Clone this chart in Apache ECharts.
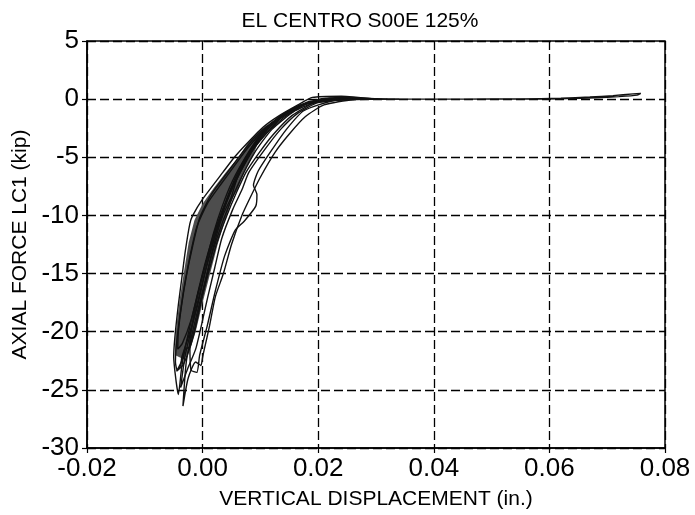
<!DOCTYPE html>
<html>
<head>
<meta charset="utf-8">
<script src="https://cdn.jsdelivr.net/npm/echarts@6/dist/echarts.min.js"></script>
<style>
  html, body { margin: 0; padding: 0; background: #fff; }
  #chart { width: 695px; height: 515px; }
</style>
</head>
<body>
<div id="chart"></div>
<script>
// axis ranges / labels
const titleText = 'EL CENTRO S00E 125%';
const xName = 'VERTICAL DISPLACEMENT (in.)';
const yName = 'AXIAL FORCE LC1 (kip)';
const xRange = [-0.02, 0.08];
const yRange = [-30, 5];

// hysteresis loops: [displacement in., force kip]
const loopOuterLeft = [
  [0.030,0.0],[0.024,0.25],[0.019,0.15],[0.0165,-0.5],[0.013,-1.5],[0.0105,-2.4],[0.0075,-3.9],
  [0.0055,-5.0],[0.0035,-6.3],[0.0,-8.6],[-0.0017,-10.0],[-0.0022,-10.7],[-0.003,-13.1],
  [-0.0036,-15.4],[-0.0042,-17.7],[-0.0048,-20.5],[-0.005,-22.2],[-0.0046,-24.2],[-0.0042,-25.4],
  [-0.0036,-23.0],[-0.0030,-21.5],[-0.0022,-21.3],[-0.0008,-18.5],[0.0006,-15.5],[0.0018,-12.8],
  [0.0035,-10.0],[0.0049,-8.5],[0.0060,-6.8],[0.0088,-4.3],[0.0113,-2.8],[0.0138,-1.5],
  [0.018,-0.4],[0.024,-0.05],[0.030,0.0]
];
const loopOuterRight = [
  [0.032,0.0],[0.026,0.1],[0.020,-0.2],[0.016,-1.0],[0.012,-2.6],[0.009,-4.6],[0.006,-7.5],
  [0.0035,-10.5],[0.0015,-13.5],[0.0,-16.5],[-0.0015,-19.5],[-0.0028,-22.5],[-0.0034,-26.4],
  [-0.0025,-24.0],[-0.0012,-22.6],[-0.0003,-22.9],[0.0,-22.2],[0.0003,-21.5],[0.0012,-19.5],
  [0.0022,-17.0],[0.0036,-15.0],[0.005,-12.5],[0.0068,-10.0],[0.0082,-8.5],[0.0099,-6.8],
  [0.0125,-4.6],[0.015,-3.0],[0.0178,-1.5],[0.021,-0.5],[0.026,-0.05],[0.034,0.0]
];
const loopMidRight = [
  [0.030,0.0],[0.022,0.1],[0.018,-0.4],[0.014,-1.6],[0.0105,-3.2],[0.0078,-5.0],[0.0052,-7.6],
  [0.003,-10.5],[0.0012,-13.4],[-0.0004,-16.5],[-0.0018,-19.5],[-0.003,-22.0],[-0.0038,-24.8],
  [-0.0026,-23.2],[-0.0012,-21.5],[0.0,-19.0],[0.0009,-17.0],[0.0021,-14.5],[0.0033,-12.0],
  [0.0052,-9.5],[0.0068,-7.8],[0.0080,-6.3],[0.0108,-4.3],[0.0135,-2.6],[0.0165,-1.2],
  [0.020,-0.3],[0.026,0.0],[0.030,0.0]
];
const loopMid = [
  [0.027,0.0],[0.021,0.05],[0.017,-0.6],[0.0125,-2.0],[0.0095,-3.6],[0.0072,-5.4],[0.0045,-8.3],
  [0.0022,-11.2],[0.0005,-14.0],[-0.001,-17.0],[-0.0024,-20.0],[-0.0036,-22.5],[-0.0045,-23.4],
  [-0.0033,-22.8],[-0.0015,-20.2],[-0.0003,-17.5],[0.0012,-14.6],[0.0025,-12.3],[0.0042,-10.0],
  [0.0058,-8.1],[0.0075,-6.3],[0.0098,-4.6],[0.0123,-3.0],[0.0155,-1.4],[0.0195,-0.3],[0.027,0.0]
];
const loopBulge = [
  [0.030,0.0],[0.024,0.15],[0.0185,-0.2],[0.015,-1.0],[0.0115,-2.5],[0.0088,-4.2],[0.006,-6.8],
  [0.0035,-9.5],[0.0015,-12.5],[-0.0002,-15.5],[-0.0015,-18.5],[-0.0022,-21.0],[-0.002,-23.3],
  [-0.001,-23.5],[-0.0005,-22.0],[0.0008,-19.5],[0.0022,-16.5],[0.0038,-13.5],[0.0056,-11.3],
  [0.0072,-10.5],[0.0092,-9.2],[0.0094,-8.2],[0.0088,-7.4],[0.0096,-6.2],[0.0118,-4.5],
  [0.0145,-2.6],[0.0175,-1.0],[0.023,-0.1],[0.030,0.0]
];
const loopBandA = [
  [0.022,0.0],[0.016,-0.7],[0.012,-2.0],[0.0088,-3.4],[0.0064,-4.9],[0.004,-6.5],[0.0015,-8.2],
  [-0.0005,-10.2],[-0.0018,-12.8],[-0.0028,-15.2],[-0.0036,-17.6],[-0.0042,-20.0],[-0.0043,-21.5],
  [-0.0035,-21.0],[-0.0020,-19.0],[-0.0007,-16.5],[0.0006,-14.0],[0.0019,-11.5],[0.0034,-9.2],
  [0.0052,-7.0],[0.0074,-5.0],[0.0098,-3.2],[0.013,-1.6],[0.017,-0.5],[0.022,0.0]
];
const loopBandB = [
  [0.0182,-0.3],[0.0145,-1.2],[0.0108,-2.6],[0.0078,-4.2],[0.0054,-5.8],[0.0032,-7.3],[0.0008,-9.0],
  [-0.0010,-11.0],[-0.0023,-13.8],[-0.0034,-16.8],[-0.0044,-20.5],[-0.0047,-22.6],[-0.0044,-23.3],
  [-0.0038,-22.9],[-0.0036,-22.2],[-0.0023,-20.2],[-0.0009,-17.8],[0.0004,-15.0],[0.0017,-12.5],
  [0.0032,-10.0],[0.0046,-8.0],[0.0064,-6.0],[0.0085,-4.2],[0.011,-2.6],[0.0142,-1.2],[0.0182,-0.3]
];
const loopTail = [
  [0.026,0.0],[0.035,0.0],[0.045,0.0],[0.055,0.02],[0.062,0.08],[0.067,0.18],[0.071,0.3],
  [0.0745,0.45],[0.0758,0.5],[0.0752,0.35],[0.072,0.22],[0.068,0.12],[0.063,0.05],[0.057,0.0],
  [0.05,0.0],[0.04,0.0],[0.03,0.0]
];
// dense, overlapping cycles drawn as one dark region
const denseBand = [
  [0.0112,-2.2],[0.0095,-2.8],[0.0078,-3.8],[0.0062,-5.0],[0.0040,-6.3],[0.0020,-7.6],[0.0,-9.0],
  [-0.0014,-10.4],[-0.0024,-12.3],[-0.0032,-14.8],[-0.0039,-17.0],[-0.0044,-19.0],[-0.0047,-20.5],
  [-0.0048,-22.0],[-0.0032,-22.4],[-0.0020,-21.3],[-0.0012,-20.0],[0.0,-17.5],[0.0013,-15.0],
  [0.0026,-12.5],[0.0039,-10.4],[0.0052,-8.5],[0.0061,-7.7],[0.0074,-6.0],[0.0086,-5.0],
  [0.0098,-3.5],[0.0112,-2.6],[0.0118,-2.2]
];

const loops = [loopBandA, loopBandB, loopOuterLeft, loopOuterRight, loopMidRight, loopMid, loopBulge, loopTail];

const chart = echarts.init(document.getElementById('chart'));
const font = 'Liberation Sans';

const series = [{
  type: 'custom',
  silent: true,
  data: [[0, 0]],
  renderItem: function (params, api) {
    return {
      type: 'polygon',
      shape: { points: denseBand.map(p => api.coord(p)) },
      style: { fill: '#4d4d4d' }
    };
  }
}];
loops.forEach(function (d) {
  series.push({
    type: 'line',
    data: d,
    showSymbol: false,
    silent: true,
    smooth: 0.2,
    lineStyle: { color: '#111', width: 1.4 }
  });
});

chart.setOption({
  animation: false,
  backgroundColor: '#fff',
  title: {
    text: titleText,
    left: 355,
    top: 6,
    textAlign: 'center',
    textStyle: { fontFamily: font, fontSize: 21, fontWeight: 'normal', color: '#000' }
  },
  grid: {
    left: 87, right: 30, top: 41, bottom: 63,
    show: true, borderColor: '#000', borderWidth: 1.5
  },
  xAxis: {
    type: 'value',
    min: xRange[0], max: xRange[1], interval: 0.02,
    name: xName, nameLocation: 'middle', nameGap: 41,
    nameTextStyle: { fontFamily: font, fontSize: 21, color: '#000' },
    axisLine: { onZero: false, lineStyle: { color: '#000', width: 1.5 } },
    axisTick: { inside: false, length: 5, lineStyle: { color: '#000', width: 1.2 } },
    axisLabel: {
      margin: 8, fontFamily: font, fontSize: 26, color: '#000',
      formatter: v => v.toFixed(2)
    },
    splitLine: { show: true, lineStyle: { color: '#000', width: 1.3, type: [9, 4] } }
  },
  yAxis: {
    type: 'value',
    min: yRange[0], max: yRange[1], interval: 5,
    name: yName, nameLocation: 'middle', nameGap: 55,
    nameTextStyle: { fontFamily: font, fontSize: 21, color: '#000' },
    axisLine: { onZero: false, lineStyle: { color: '#000', width: 1.5 } },
    axisTick: { inside: false, length: 5, lineStyle: { color: '#000', width: 1.2 } },
    axisLabel: { margin: 8, fontFamily: font, fontSize: 26, color: '#000' },
    splitLine: { show: true, lineStyle: { color: '#000', width: 1.3, type: [9, 4] } }
  },
  series: series
});
</script>
</body>
</html>
